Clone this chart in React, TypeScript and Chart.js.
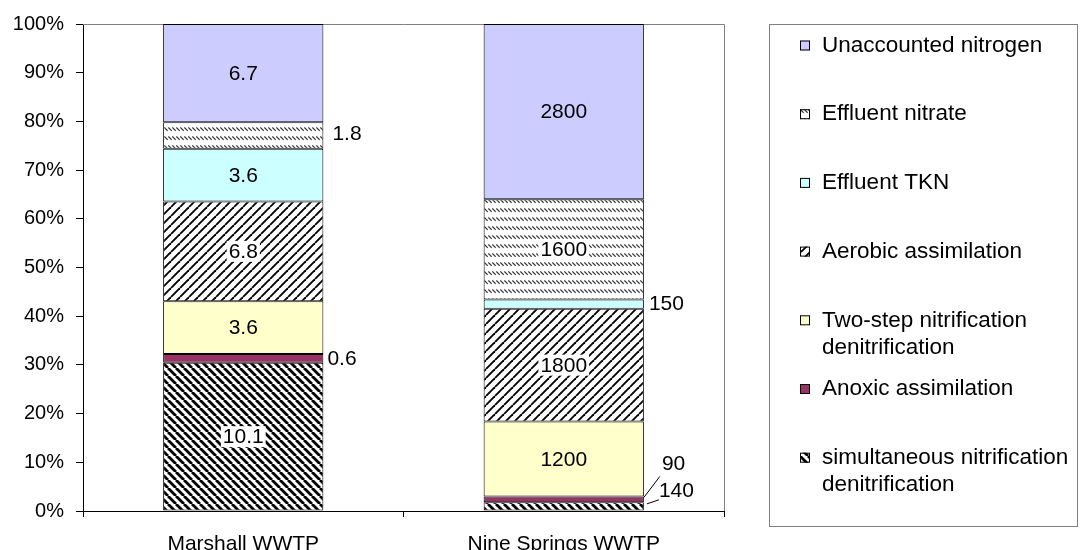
import React, { useEffect, useRef } from "react";
import { Chart, registerables } from "chart.js";

Chart.register(...registerables);

const FONT = '"Liberation Sans", Arial, Helvetica, sans-serif';

// Plants on the x axis
const categories = ["Marshall WWTP", "Nine Springs WWTP"];

// Nitrogen fate per plant (stacked bottom to top)
const sndValues = [10.1, 140];
const anoxicValues = [0.6, 90];
const twoStepValues = [3.6, 1200];
const aerobicValues = [6.8, 1800];
const tknValues = [3.6, 150];
const nitrateValues = [1.8, 1600];
const unaccountedValues = [6.7, 2800];

const seriesNames = [
  "simultaneous nitrification denitrification",
  "Anoxic assimilation",
  "Two-step nitrification denitrification",
  "Aerobic assimilation",
  "Effluent TKN",
  "Effluent nitrate",
  "Unaccounted nitrogen",
];

// Legend text, split into the lines it is drawn on (same order as seriesNames)
const legendLines = [
  ["simultaneous nitrification", "denitrification"],
  ["Anoxic assimilation"],
  ["Two-step nitrification", "denitrification"],
  ["Aerobic assimilation"],
  ["Effluent TKN"],
  ["Effluent nitrate"],
  ["Unaccounted nitrogen"],
];

const yTickValues = [0, 10, 20, 30, 40, 50, 60, 70, 80, 90, 100];

const allSeries = [
  sndValues,
  anoxicValues,
  twoStepValues,
  aerobicValues,
  tknValues,
  nitrateValues,
  unaccountedValues,
];

function stripePattern(
  ctx: CanvasRenderingContext2D,
  size: number,
  lineWidth: number,
  downward: boolean
) {
  const c = document.createElement("canvas");
  c.width = size;
  c.height = size;
  const g = c.getContext("2d")!;
  g.fillStyle = "#ffffff";
  g.fillRect(0, 0, size, size);
  g.strokeStyle = "#000000";
  g.lineWidth = lineWidth;
  for (let k = -1; k <= 1; k++) {
    g.beginPath();
    if (downward) {
      g.moveTo(k * size, 0);
      g.lineTo(k * size + size, size);
    } else {
      g.moveTo(k * size, size);
      g.lineTo(k * size + size, 0);
    }
    g.stroke();
  }
  return ctx.createPattern(c, "repeat")!;
}

function dashedDiagonalPattern(ctx: CanvasRenderingContext2D) {
  const c = document.createElement("canvas");
  c.width = 4;
  c.height = 9;
  const g = c.getContext("2d")!;
  g.fillStyle = "#ffffff";
  g.fillRect(0, 0, 4, 9);
  g.strokeStyle = "#3a3a3a";
  g.lineWidth = 1.2;
  g.beginPath();
  g.moveTo(0.3, 1.5);
  g.lineTo(3.7, 4.8);
  g.stroke();
  return ctx.createPattern(c, "repeat")!;
}

// Labels drawn beside the bar instead of inside: key = "dataset-category"
// offsets are relative to (bar right edge, segment centre)
const calloutLabels: Record<
  string,
  { dx: number; dy: number; leader?: [number, number, number, number] }
> = {
  "5-0": { dx: 9, dy: -1 },
  "1-0": { dx: 4, dy: 1 },
  "4-1": { dx: 5, dy: 0 },
  "1-1": { dx: 18, dy: -35, leader: [0, -2, 16, -23] },
  "0-1": { dx: 15, dy: -15, leader: [3, -2.5, 15, -6.5] },
};

export default function App() {
  const canvasRef = useRef<HTMLCanvasElement | null>(null);

  useEffect(() => {
    document.body.style.margin = "0";
    const canvas = canvasRef.current!;
    const ctx = canvas.getContext("2d")!;

    const fills: (string | CanvasPattern)[] = [
      stripePattern(ctx, 8, 2.8, true),
      "#993366",
      "#FFFFCC",
      stripePattern(ctx, 9, 1.9, false),
      "#CCFFFF",
      dashedDiagonalPattern(ctx),
      "#CCCCFF",
    ];
    const patterned = [true, false, false, true, false, true, false];

    const totals = categories.map((_, i) =>
      allSeries.reduce((s, arr) => s + arr[i], 0)
    );

    const datasets = allSeries.map((vals, di) => ({
      label: seriesNames[di],
      data: vals.map((v, i) => (v / totals[i]) * 100),
      backgroundColor: fills[di],
      borderColor: "#000000",
      borderWidth: 1,
      borderSkipped: false as const,
      barPercentage: 1,
      categoryPercentage: 0.5,
    }));

    const frame = {
      id: "frame",
      beforeDatasetsDraw(chart: any) {
        const { left, right, top, bottom } = chart.chartArea;
        const c = chart.ctx;
        c.save();
        c.strokeStyle = "#808080";
        c.lineWidth = 1;
        c.beginPath();
        c.moveTo(left, top + 0.5);
        c.lineTo(right + 0.5, top + 0.5);
        c.lineTo(right + 0.5, bottom);
        c.stroke();
        c.restore();
      },
    };

    const valueLabels = {
      id: "valueLabels",
      afterDatasetsDraw(chart: any) {
        const c = chart.ctx;
        c.save();
        c.font = `21px ${FONT}`;
        c.textBaseline = "middle";
        c.fillStyle = "#000";
        chart.data.datasets.forEach((_: any, di: number) => {
          const meta = chart.getDatasetMeta(di);
          meta.data.forEach((bar: any, i: number) => {
            const { x, y, base, width } = bar.getProps(
              ["x", "y", "base", "width"],
              true
            );
            const text = String(allSeries[di][i]);
            const top = Math.min(y, base);
            const bottom = Math.max(y, base);
            const cy = (top + bottom) / 2;
            const right = x + width / 2;
            const call = calloutLabels[`${di}-${i}`];
            const tw = c.measureText(text).width;
            if (call) {
              c.textAlign = "left";
              c.fillStyle = "#000";
              c.fillText(text, right + call.dx, cy + call.dy);
              if (call.leader) {
                const [x1, y1, x2, y2] = call.leader;
                c.strokeStyle = "#000";
                c.lineWidth = 1;
                c.beginPath();
                c.moveTo(right + x1, cy + y1);
                c.lineTo(right + x2, cy + y2);
                c.stroke();
              }
            } else {
              if (patterned[di]) {
                c.fillStyle = "#ffffff";
                c.fillRect(x - tw / 2 - 2, cy - 10.5, tw + 4, 21);
              }
              c.fillStyle = "#000";
              c.textAlign = "center";
              c.fillText(text, x, cy + 1);
            }
          });
        });
        c.restore();
      },
    };

    const legendBox = {
      id: "legendBox",
      afterDraw(chart: any) {
        const c = chart.ctx;
        c.save();
        c.strokeStyle = "#808080";
        c.lineWidth = 1;
        c.strokeRect(769.5, 24.5, 308, 502);
        c.font = `22.5px ${FONT}`;
        c.textBaseline = "middle";
        c.textAlign = "left";
        const order = [6, 5, 4, 3, 2, 1, 0];
        order.forEach((di, row) => {
          const yc = 45.5 + row * 68.7;
          c.fillStyle = fills[di];
          c.fillRect(800, yc - 5, 10, 10);
          c.strokeStyle = "#000";
          c.strokeRect(800.5, yc - 4.5, 9, 9);
          c.fillStyle = "#000";
          legendLines[di].forEach((line, li) => {
            c.fillText(line, 822, yc + li * 27);
          });
        });
        c.restore();
      },
    };

    const chart = new Chart(ctx, {
      type: "bar",
      data: { labels: categories, datasets },
      options: {
        responsive: false,
        maintainAspectRatio: false,
        animation: false,
        devicePixelRatio: 1,
        layout: { padding: { top: 23, right: 357, bottom: 0, left: 0 } },
        plugins: {
          legend: { display: false },
          tooltip: { enabled: false },
        },
        scales: {
          x: {
            stacked: true,
            grid: {
              offset: true,
              drawOnChartArea: false,
              drawTicks: true,
              tickLength: 6,
              color: "#000",
            },
            border: { display: true, color: "#000", width: 1 },
            ticks: {
              color: "#000",
              font: { family: FONT, size: 21 },
              padding: 15,
              maxRotation: 0,
            },
            afterFit: (scale: any) => {
              scale.height = 39;
            },
          },
          y: {
            stacked: true,
            min: 0,
            max: 100,
            afterBuildTicks: (scale: any) => {
              scale.ticks = yTickValues.map((v) => ({ value: v }));
            },
            grid: {
              drawOnChartArea: false,
              drawTicks: true,
              tickLength: 7,
              color: "#000",
            },
            border: { display: true, color: "#000", width: 1 },
            ticks: {
              color: "#000",
              font: { family: FONT, size: 20 },
              padding: 12,
              callback: (v: any) => `${v}%`,
            },
            afterFit: (scale: any) => {
              scale.width = 83;
            },
          },
        },
      },
      plugins: [frame, valueLabels, legendBox],
    });

    return () => chart.destroy();
  }, []);

  return (
    <div style={{ width: 1081, height: 550, background: "#fff" }}>
      <canvas ref={canvasRef} width={1081} height={550} />
    </div>
  );
}
